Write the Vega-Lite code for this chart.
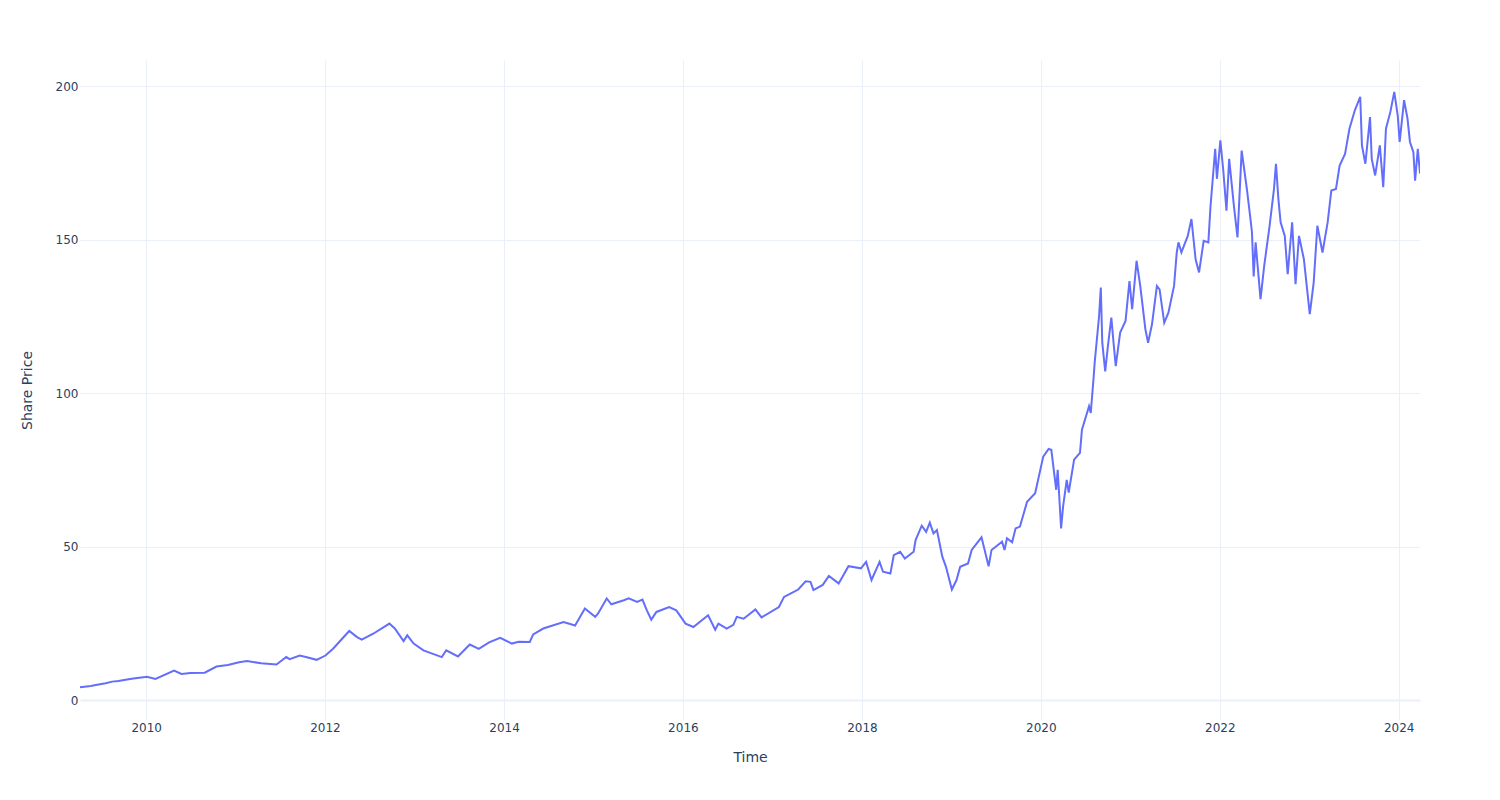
{
  "$schema": "https://vega.github.io/schema/vega-lite/v6.json",
  "width": 1340,
  "height": 660,
  "autosize": {"type": "none"},
  "padding": {"left": 80, "top": 60, "right": 80, "bottom": 80},
  "background": "white",
  "config": {
    "view": {"stroke": null},
    "font": "DejaVu Sans"
  },
  "data": {
    "values": [
      {"date": "2009-04-06", "price": 4.2},
      {"date": "2009-05-20", "price": 4.6},
      {"date": "2009-06-15", "price": 5.0},
      {"date": "2009-07-20", "price": 5.5},
      {"date": "2009-08-15", "price": 6.0},
      {"date": "2009-09-10", "price": 6.2},
      {"date": "2009-10-15", "price": 6.7},
      {"date": "2009-11-10", "price": 7.0},
      {"date": "2009-12-28", "price": 7.5},
      {"date": "2010-01-04", "price": 7.6},
      {"date": "2010-02-08", "price": 6.9},
      {"date": "2010-04-25", "price": 9.6},
      {"date": "2010-05-25", "price": 8.5},
      {"date": "2010-07-01", "price": 8.8},
      {"date": "2010-08-28", "price": 8.9},
      {"date": "2010-10-15", "price": 10.9},
      {"date": "2010-12-01", "price": 11.4},
      {"date": "2011-01-15", "price": 12.3},
      {"date": "2011-02-17", "price": 12.7},
      {"date": "2011-04-15", "price": 12.0},
      {"date": "2011-06-17", "price": 11.6},
      {"date": "2011-07-27", "price": 14.0},
      {"date": "2011-08-10", "price": 13.3},
      {"date": "2011-09-20", "price": 14.5},
      {"date": "2011-10-15", "price": 14.0},
      {"date": "2011-11-28", "price": 13.1},
      {"date": "2012-01-03", "price": 14.5},
      {"date": "2012-02-03", "price": 16.7},
      {"date": "2012-04-09", "price": 22.5},
      {"date": "2012-05-11", "price": 20.5},
      {"date": "2012-05-30", "price": 19.7},
      {"date": "2012-07-16", "price": 21.6},
      {"date": "2012-09-20", "price": 24.9},
      {"date": "2012-10-12", "price": 23.3},
      {"date": "2012-11-17", "price": 19.2},
      {"date": "2012-12-02", "price": 21.1},
      {"date": "2012-12-28", "price": 18.4},
      {"date": "2013-02-06", "price": 16.2},
      {"date": "2013-04-22", "price": 14.0},
      {"date": "2013-05-10", "price": 16.2},
      {"date": "2013-06-27", "price": 14.2},
      {"date": "2013-08-14", "price": 18.1},
      {"date": "2013-09-20", "price": 16.7},
      {"date": "2013-11-01", "price": 18.8},
      {"date": "2013-12-16", "price": 20.3},
      {"date": "2014-02-02", "price": 18.4},
      {"date": "2014-03-01", "price": 19.0},
      {"date": "2014-04-16", "price": 18.9},
      {"date": "2014-04-30", "price": 21.4},
      {"date": "2014-06-10", "price": 23.3},
      {"date": "2014-09-01", "price": 25.4},
      {"date": "2014-10-18", "price": 24.3},
      {"date": "2014-11-27", "price": 29.8},
      {"date": "2015-01-08", "price": 27.1},
      {"date": "2015-01-20", "price": 28.2},
      {"date": "2015-02-24", "price": 33.1},
      {"date": "2015-03-15", "price": 31.2},
      {"date": "2015-05-05", "price": 32.5},
      {"date": "2015-05-25", "price": 33.1},
      {"date": "2015-06-28", "price": 32.0},
      {"date": "2015-07-20", "price": 32.7},
      {"date": "2015-08-07", "price": 29.2},
      {"date": "2015-08-25", "price": 26.2},
      {"date": "2015-09-15", "price": 28.7},
      {"date": "2015-11-06", "price": 30.3},
      {"date": "2015-12-05", "price": 29.2},
      {"date": "2016-01-12", "price": 24.9},
      {"date": "2016-02-13", "price": 23.8},
      {"date": "2016-04-13", "price": 27.6},
      {"date": "2016-05-12", "price": 22.9},
      {"date": "2016-05-25", "price": 24.9},
      {"date": "2016-06-28", "price": 23.3},
      {"date": "2016-07-25", "price": 24.5},
      {"date": "2016-08-08", "price": 27.1},
      {"date": "2016-09-05", "price": 26.5},
      {"date": "2016-10-23", "price": 29.5},
      {"date": "2016-11-17", "price": 26.9},
      {"date": "2017-01-27", "price": 30.3},
      {"date": "2017-02-17", "price": 33.6},
      {"date": "2017-03-15", "price": 34.7},
      {"date": "2017-04-16", "price": 36.0},
      {"date": "2017-05-16", "price": 38.7},
      {"date": "2017-06-05", "price": 38.5},
      {"date": "2017-06-17", "price": 35.8},
      {"date": "2017-07-25", "price": 37.5},
      {"date": "2017-08-19", "price": 40.4},
      {"date": "2017-09-28", "price": 38.0},
      {"date": "2017-11-07", "price": 43.6},
      {"date": "2017-12-28", "price": 42.9},
      {"date": "2018-01-18", "price": 45.0},
      {"date": "2018-02-09", "price": 39.1},
      {"date": "2018-03-14", "price": 45.0},
      {"date": "2018-03-28", "price": 41.8},
      {"date": "2018-04-27", "price": 41.2},
      {"date": "2018-05-11", "price": 47.2},
      {"date": "2018-06-06", "price": 48.3},
      {"date": "2018-06-25", "price": 46.1},
      {"date": "2018-07-31", "price": 48.3},
      {"date": "2018-08-08", "price": 52.1},
      {"date": "2018-09-02", "price": 56.8},
      {"date": "2018-09-20", "price": 54.8},
      {"date": "2018-10-05", "price": 57.8},
      {"date": "2018-10-20", "price": 54.3},
      {"date": "2018-11-03", "price": 55.4},
      {"date": "2018-11-25", "price": 46.7},
      {"date": "2018-12-10", "price": 43.4},
      {"date": "2019-01-03", "price": 36.0},
      {"date": "2019-01-22", "price": 39.1},
      {"date": "2019-02-06", "price": 43.4},
      {"date": "2019-03-10", "price": 44.5},
      {"date": "2019-03-25", "price": 48.9},
      {"date": "2019-05-04", "price": 53.0},
      {"date": "2019-06-02", "price": 43.6},
      {"date": "2019-06-14", "price": 48.9},
      {"date": "2019-07-27", "price": 51.6},
      {"date": "2019-08-06", "price": 48.9},
      {"date": "2019-08-16", "price": 52.7},
      {"date": "2019-09-06", "price": 51.4},
      {"date": "2019-09-20", "price": 55.9},
      {"date": "2019-10-08", "price": 56.5},
      {"date": "2019-11-06", "price": 64.6},
      {"date": "2019-12-09", "price": 67.4},
      {"date": "2020-01-11", "price": 79.3},
      {"date": "2020-02-02", "price": 81.8},
      {"date": "2020-02-13", "price": 81.5},
      {"date": "2020-03-04", "price": 68.5},
      {"date": "2020-03-10", "price": 75.0},
      {"date": "2020-03-24", "price": 55.9},
      {"date": "2020-04-01", "price": 63.0},
      {"date": "2020-04-16", "price": 71.7},
      {"date": "2020-04-24", "price": 67.6},
      {"date": "2020-05-16", "price": 78.3},
      {"date": "2020-06-09", "price": 80.5},
      {"date": "2020-06-17", "price": 88.1},
      {"date": "2020-07-16", "price": 95.7},
      {"date": "2020-07-23", "price": 93.5},
      {"date": "2020-08-03", "price": 104.4},
      {"date": "2020-08-08", "price": 109.9},
      {"date": "2020-08-26", "price": 125.1},
      {"date": "2020-09-02", "price": 134.4},
      {"date": "2020-09-08", "price": 116.4},
      {"date": "2020-09-20", "price": 107.1},
      {"date": "2020-10-01", "price": 115.3},
      {"date": "2020-10-15", "price": 124.6},
      {"date": "2020-10-24", "price": 116.4},
      {"date": "2020-11-02", "price": 108.8},
      {"date": "2020-11-20", "price": 119.7},
      {"date": "2020-12-12", "price": 123.5},
      {"date": "2020-12-28", "price": 136.5},
      {"date": "2021-01-08", "price": 127.3},
      {"date": "2021-01-26", "price": 143.1},
      {"date": "2021-02-10", "price": 134.9},
      {"date": "2021-03-03", "price": 120.8},
      {"date": "2021-03-14", "price": 116.4},
      {"date": "2021-03-30", "price": 122.4},
      {"date": "2021-04-19", "price": 134.9},
      {"date": "2021-04-30", "price": 133.8},
      {"date": "2021-05-19", "price": 122.9},
      {"date": "2021-06-05", "price": 126.2},
      {"date": "2021-06-28", "price": 134.9},
      {"date": "2021-07-09", "price": 145.8},
      {"date": "2021-07-16", "price": 149.1},
      {"date": "2021-07-28", "price": 145.8},
      {"date": "2021-08-23", "price": 151.2},
      {"date": "2021-09-07", "price": 156.7},
      {"date": "2021-09-24", "price": 143.6},
      {"date": "2021-10-08", "price": 139.3},
      {"date": "2021-10-27", "price": 149.6},
      {"date": "2021-11-15", "price": 149.1},
      {"date": "2021-11-24", "price": 161.0},
      {"date": "2021-12-13", "price": 179.6},
      {"date": "2021-12-20", "price": 169.8},
      {"date": "2022-01-03", "price": 182.3},
      {"date": "2022-01-15", "price": 172.5},
      {"date": "2022-01-28", "price": 159.4},
      {"date": "2022-02-08", "price": 176.3},
      {"date": "2022-02-28", "price": 160.5},
      {"date": "2022-03-14", "price": 150.7},
      {"date": "2022-03-31", "price": 179.0},
      {"date": "2022-04-22", "price": 166.0},
      {"date": "2022-05-06", "price": 156.7},
      {"date": "2022-05-12", "price": 152.4},
      {"date": "2022-05-19", "price": 138.0},
      {"date": "2022-05-27", "price": 149.1},
      {"date": "2022-06-16", "price": 130.6},
      {"date": "2022-07-01", "price": 141.4},
      {"date": "2022-07-23", "price": 154.5},
      {"date": "2022-08-10", "price": 166.5},
      {"date": "2022-08-18", "price": 174.7},
      {"date": "2022-08-28", "price": 163.2},
      {"date": "2022-09-06", "price": 155.6},
      {"date": "2022-09-23", "price": 151.2},
      {"date": "2022-10-05", "price": 138.7},
      {"date": "2022-10-23", "price": 155.6},
      {"date": "2022-11-06", "price": 135.5},
      {"date": "2022-11-20", "price": 151.2},
      {"date": "2022-12-10", "price": 143.6},
      {"date": "2023-01-03", "price": 125.7},
      {"date": "2023-01-19", "price": 136.0},
      {"date": "2023-02-03", "price": 154.5},
      {"date": "2023-02-24", "price": 145.8},
      {"date": "2023-03-17", "price": 155.6},
      {"date": "2023-04-01", "price": 166.0},
      {"date": "2023-04-20", "price": 166.5},
      {"date": "2023-05-05", "price": 174.1},
      {"date": "2023-05-27", "price": 177.9},
      {"date": "2023-06-14", "price": 186.1},
      {"date": "2023-07-06", "price": 192.1},
      {"date": "2023-07-28", "price": 196.5},
      {"date": "2023-08-04", "price": 180.7},
      {"date": "2023-08-18", "price": 174.7},
      {"date": "2023-09-06", "price": 189.9},
      {"date": "2023-09-13", "price": 176.3},
      {"date": "2023-09-27", "price": 170.9},
      {"date": "2023-10-16", "price": 180.7},
      {"date": "2023-10-30", "price": 167.1},
      {"date": "2023-11-10", "price": 186.1},
      {"date": "2023-11-28", "price": 191.6},
      {"date": "2023-12-14", "price": 198.1},
      {"date": "2023-12-28", "price": 190.5},
      {"date": "2024-01-05", "price": 181.8},
      {"date": "2024-01-23", "price": 195.4},
      {"date": "2024-02-06", "price": 189.4},
      {"date": "2024-02-16", "price": 181.8},
      {"date": "2024-03-01", "price": 178.5},
      {"date": "2024-03-08", "price": 169.2},
      {"date": "2024-03-19", "price": 179.6},
      {"date": "2024-03-28", "price": 171.5}
    ]
  },
  "mark": {"type": "line", "color": "#636efa", "strokeWidth": 2, "clip": true},
  "encoding": {
    "x": {
      "field": "date",
      "type": "temporal",
      "title": "Time",
      "scale": {"domain": ["2009-04-06", "2024-03-28"], "nice": false},
      "axis": {
        "values": [
          {"year": 2010, "month": 1, "date": 1},
          {"year": 2012, "month": 1, "date": 1},
          {"year": 2014, "month": 1, "date": 1},
          {"year": 2016, "month": 1, "date": 1},
          {"year": 2018, "month": 1, "date": 1},
          {"year": 2020, "month": 1, "date": 1},
          {"year": 2022, "month": 1, "date": 1},
          {"year": 2024, "month": 1, "date": 1}
        ],
        "format": "%Y",
        "domain": false,
        "ticks": false,
        "grid": true,
        "gridColor": "#EBF0F8",
        "gridWidth": 1,
        "labelFont": "DejaVu Sans",
        "labelFontSize": 12,
        "labelColor": "#2a3f5f",
        "labelPadding": 2,
        "labelFlush": false,
        "titleFont": "DejaVu Sans",
        "titleFontSize": 14,
        "titleFontWeight": "normal",
        "titleColor": "#2a3f5f",
        "titlePadding": 17
      }
    },
    "y": {
      "field": "price",
      "type": "quantitative",
      "title": "Share Price",
      "scale": {"domain": [-6.5, 208.5], "nice": false, "zero": false},
      "axis": {
        "values": [0, 50, 100, 150, 200],
        "domain": false,
        "ticks": false,
        "grid": true,
        "gridColor": "#EBF0F8",
        "gridWidth": {"condition": {"test": "datum.value === 0", "value": 2}, "value": 1},
        "labelFont": "DejaVu Sans",
        "labelFontSize": 12,
        "labelColor": "#2a3f5f",
        "labelPadding": 2,
        "labelFlush": false,
        "titleFont": "DejaVu Sans",
        "titleFontSize": 14,
        "titleFontWeight": "normal",
        "titleColor": "#2a3f5f",
        "titlePadding": 21
      }
    }
  }
}
